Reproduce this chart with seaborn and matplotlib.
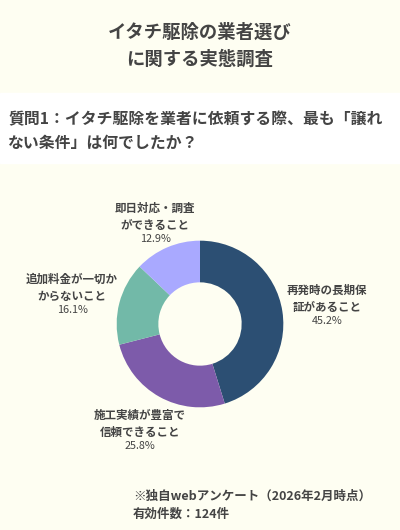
import numpy as np
import matplotlib
matplotlib.use("Agg")
import matplotlib.pyplot as plt
import seaborn as sns

# Data
categories = ["再発時の長期保\n証があること", "施工実績が豊富で\n信頼できること",
              "追加料金が一切か\nからないこと", "即日対応・調査\nができること"]
shares = [45.2, 25.8, 16.1, 12.9]
colors = ["#2c4f73", "#7d5baa", "#72b9a8", "#a9a9ff"]

title = "イタチ駆除の業者選び\nに関する実態調査"
question = "質問1：イタチ駆除を業者に依頼する際、最も「譲れ\nない条件」は何でしたか？"
note_lines = ["※独自webアンケート（2026年2月時点）", "有効件数：124件"]

sns.set_theme(style="white")
plt.rcParams['font.family'] = ['Noto Sans CJK JP', 'DejaVu Sans']

bg = "#fefef2"
txt = "#444444"
W, H = 400, 530

fig = plt.figure(figsize=(W / 100, H / 100), dpi=100, facecolor=bg)

# Title
fig.text(0.5, 1 - 46 / H, title, ha="center", va="center", fontsize=13.2,
         fontweight="bold", color=txt, linespacing=1.55)

# Question band
band = plt.Rectangle((0, 1 - 163 / H), 1, 70 / H, transform=fig.transFigure,
                     color="white", zorder=0)
fig.patches.append(band)
fig.text(8 / W, 1 - 131 / H, question, ha="left", va="center", fontsize=11.4,
         fontweight="bold", color=txt, linespacing=1.6)

# Donut
cx, cy, half = 200, 324, 100
ax = fig.add_axes([(cx - half) / W, 1 - (cy + half) / H, 2 * half / W, 2 * half / H])
ax.set_facecolor(bg)
pal = sns.color_palette(colors)
ax.pie(shares, colors=pal, startangle=90, counterclock=False,
       wedgeprops=dict(width=0.5, edgecolor="none"))
ax.set_xlim(-1.2, 1.2)
ax.set_ylim(-1.2, 1.2)
ax.set_aspect("equal")
ax.axis("off")

# Labels (figure pixel positions of label centres)
label_pos = [(327, 299), (140, 424), (72, 288), (155, 217)]
for cat, val, (lx, ly) in zip(categories, shares, label_pos):
    fig.text(lx / W, 1 - ly / H, cat, ha="center", va="center", fontsize=8.3,
             fontweight="bold", color=txt, linespacing=1.45)
    fig.text(lx / W, 1 - (ly + 22) / H, f"{val}%", ha="center", va="center",
             fontsize=7.8, color=txt)

# Footer note
fig.text(133 / W, 1 - 496 / H, note_lines[0], ha="left", va="center", fontsize=9,
         fontweight="bold", color=txt)
fig.text(133 / W, 1 - 514 / H, note_lines[1], ha="left", va="center", fontsize=9,
         fontweight="bold", color=txt)

fig.savefig("out.png", dpi=100, facecolor=bg)
